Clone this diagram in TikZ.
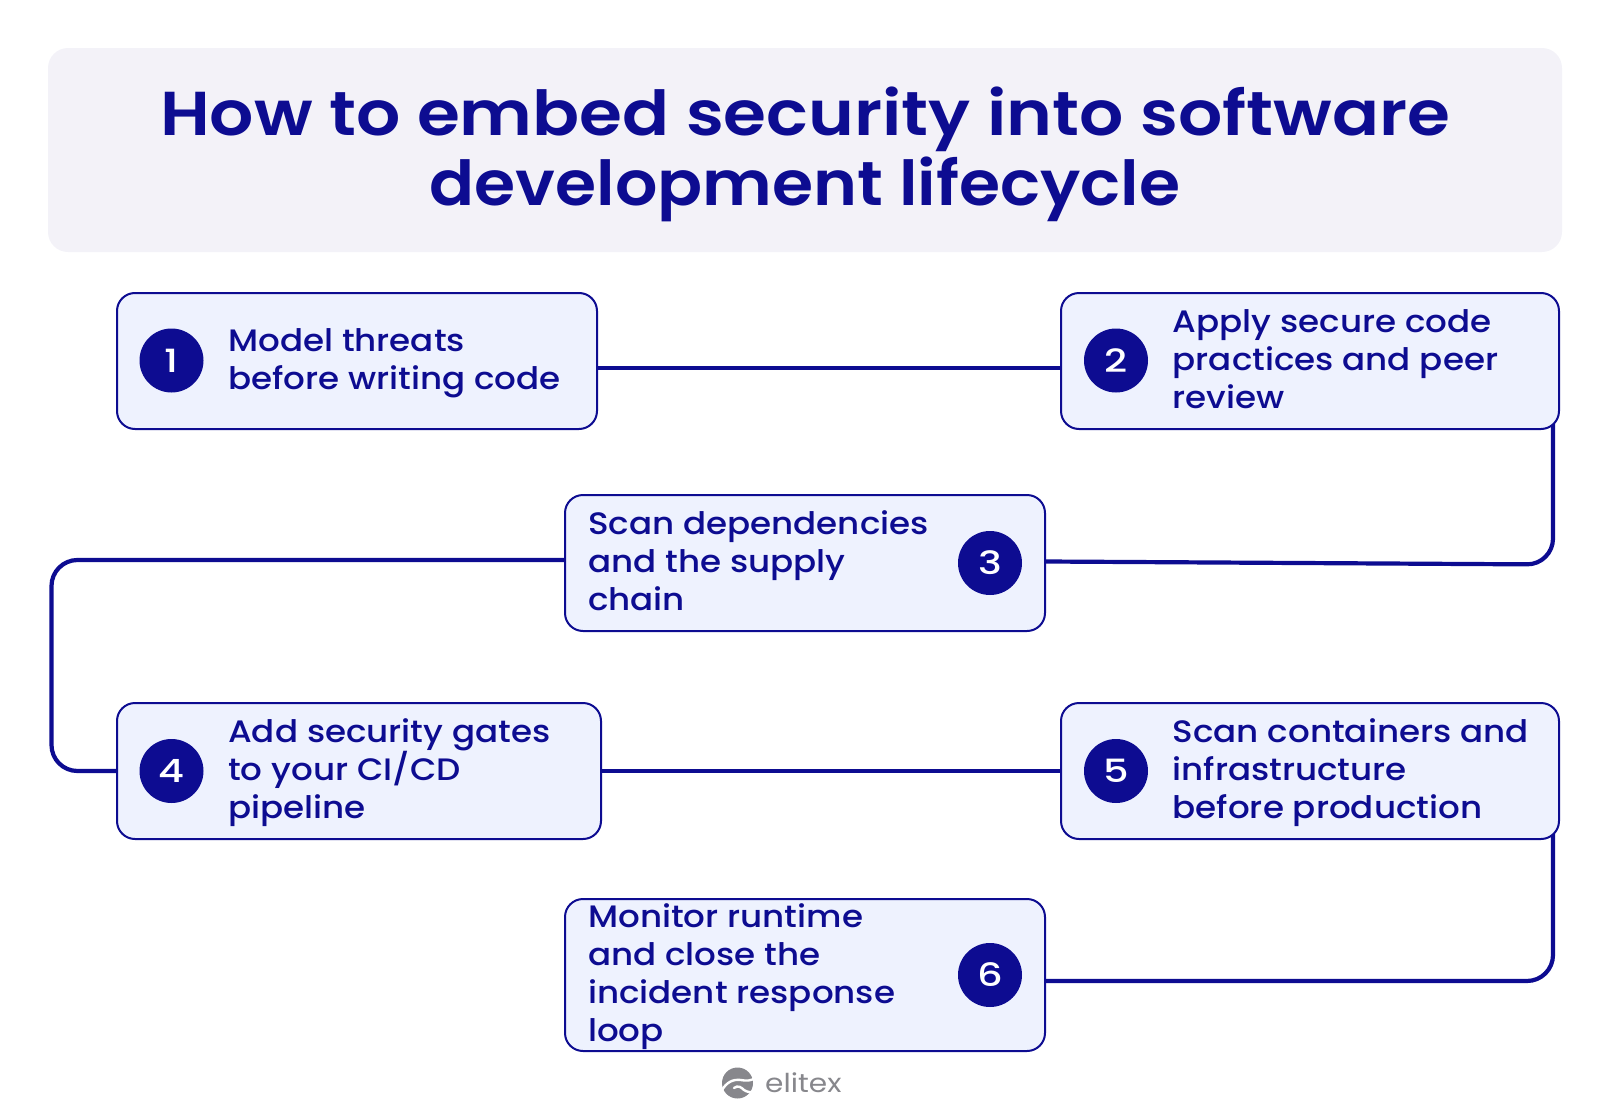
\documentclass[tikz,border=0pt]{standalone}
\usepackage{fontspec}
\setsansfont{Poppins Medium}[FakeStretch=1.1]
\newfontfamily\headfont{Poppins SemiBold}[FakeStretch=1.12]
\newfontfamily\headtightfont{Poppins SemiBold}[FakeStretch=1.073]
\newfontfamily\digitfont{Poppins Medium}[FakeStretch=1.25]
\newfontfamily\logofont{Poppins}[FakeStretch=1.14]
\usetikzlibrary{calc,backgrounds}
\definecolor{navy}{HTML}{0D0C91}
\definecolor{boxfill}{HTML}{EEF2FE}
\definecolor{panelfill}{HTML}{F3F2F8}
\definecolor{logogray}{HTML}{87878C}

\begin{document}
\begin{tikzpicture}[x=1pt,y=-1pt]
    \sffamily

    \tikzset{BX/.style={draw=navy,line width=2pt,fill=boxfill,rounded corners=18pt,inner sep=0pt,anchor=north west}}
    \tikzset{NM/.style={circle,fill=navy,text=white,inner sep=0pt,minimum size=64pt,font=\digitfont\fontsize{32}{32}\selectfont}}
    \tikzset{TX/.style={anchor=west,inner sep=0pt,align=left,text=navy,font=\fontsize{31}{38}\selectfont}}
    \tikzset{LN/.style={draw=navy,line width=4.2pt,rounded corners=26pt}}

    \useasboundingbox (0,0) rectangle (1610,1100);

    \node (panel) [fill=panelfill,rounded corners=20pt,inner sep=0pt,minimum width=1514pt,minimum height=204pt] at (805,150) {};
    \node (title) [align=center,text=navy,inner sep=0pt,font=\headfont\fontsize{62}{70}\selectfont] at (805,154) {How to embed security into software\\\headtightfont development lifecycle};

    \node (box1) [BX,minimum width=480pt,minimum height=136pt] at (116,292) {};
    	\node (num1) [NM] at (171.5,360.5) {1};
    	\node (text1) [TX] at (228,363) {Model threats\\before writing code};
    \node (box2) [BX,minimum width=498pt,minimum height=136pt] at (1060,292) {};
    	\node (num2) [NM] at (1116,360.5) {2};
    	\node (text2) [TX] at (1172.5,359) {Apply secure code\\practices and peer\\review};
    \node (box3) [BX,minimum width=480pt,minimum height=136pt] at (564,494) {};
    	\node (num3) [NM] at (990,563) {3};
    	\node (text3) [TX] at (588,561) {Scan dependencies\\and the supply\\chain};
    \node (box4) [BX,minimum width=484pt,minimum height=136pt] at (116,702) {};
    	\node (num4) [NM] at (171.5,771) {4};
    	\node (text4) [TX] at (228,773) {Add security gates\\to your CI/CD\\pipeline};
    \node (box5) [BX,minimum width=498pt,minimum height=136pt] at (1060,702) {};
    	\node (num5) [NM] at (1116,771) {5};
    	\node (text5) [TX] at (1172.5,773) {Scan containers and\\infrastructure\\before production};
    \node (box6) [BX,minimum width=480pt,minimum height=152pt] at (564,898) {};
    	\node (num6) [NM] at (990,975) {6};
    	\node (text6) [TX] at (588,977) {Monitor runtime\\and close the\\incident response\\loop};

    \coordinate (turn2) at (1553,564.5);
    \coordinate (turn3) at (51.5,771);
    \coordinate (turn5) at (1553,981);

    \begin{pgfonlayer}{background}
    	\path[LN] ([yshift=-7pt]box1.east) -- ([yshift=-7pt]box2.west);
    	\path[LN] (box2.east -| turn2) -- (turn2) -- ([yshift=1.5pt]box3.east);
    	\path[LN] ([yshift=3pt]box3.west) -| (turn3) -- (box4.west);
    	\path[LN] (box4.east) -- (box5.west);
    	\path[LN] (box5.east -| turn5) -- (turn5) -- ([yshift=-6pt]box6.east);
    \end{pgfonlayer}

    % logo
    \node (logoicon) [circle,fill=logogray,minimum size=31pt,inner sep=0pt] at (737.5,1083) {};
    \path[draw=white,line width=2.4pt,line cap=round] (721,1092) .. controls (726,1082) and (733,1079) .. (741,1080) .. controls (746,1081) and (751,1081) .. (755,1078);
    \path[draw=white,line width=2.4pt,line cap=round] (734,1088) .. controls (738,1085) and (741,1087) .. (744,1090) .. controls (747,1092) and (751,1093) .. (755,1091);
    \node (logotext) [anchor=base west,inner sep=0pt,text=logogray,font=\logofont\fontsize{26}{26}\selectfont] at (765,1092) {elitex};
\end{tikzpicture}
\end{document}
